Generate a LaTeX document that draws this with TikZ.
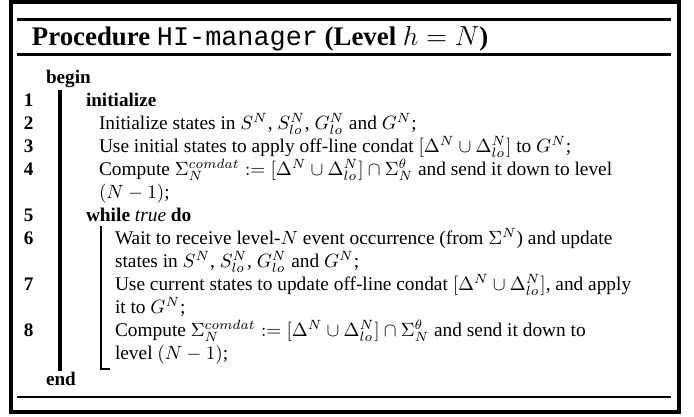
\documentclass[tikz,border=0pt]{standalone}
\usepackage[no-math]{fontspec}
\setmainfont{Liberation Serif}
\setmonofont{Liberation Mono}
\usepackage{amsmath}
\usetikzlibrary{positioning}

\begin{document}
\begin{tikzpicture}[
    x=0.5217pt, y=-0.5217pt,
    every node/.style={inner sep=0pt, outer sep=0pt, anchor=base west, font=\fontsize{10.1}{12}\selectfont},
    linenum/.style={font=\fontsize{10}{12}\selectfont\bfseries},
    keyword/.style={font=\fontsize{10}{12}\selectfont\bfseries},
    frame/.style={line width=1.6pt},
    rule/.style={line width=1.2pt},
    outerbar/.style={line width=1.6pt},
    innerbar/.style={line width=1.2pt}
]
\useasboundingbox (0,0) rectangle (694,416);

% frame and rules
\draw[frame] (11,2) rectangle (679,412);
\draw[rule] (17,19.5) -- (671,19.5);
\draw[rule] (17,54.5) -- (671,54.5);
\draw[rule] (17,397) -- (671,397);

% title
\node (title) at (32,45) {\fontsize{14}{17}\selectfont\textbf{Procedure} \texttt{HI-manager} \textbf{(Level} $h=N$\textbf{)}};

% begin block
\node[keyword] (begin) at (46,83) {begin};
\node[keyword] (end) at (46,385) {end};
\coordinate (btop) at (60,90);
\coordinate (bbot) at (60,371);
\draw[outerbar] (btop) -- (bbot);

% line numbers
\node[linenum] (n1) at (24,106) {1};
\node[linenum] (n2) at (24,129) {2};
\node[linenum] (n3) at (24,152) {3};
\node[linenum] (n4) at (24,175) {4};
\node[linenum] (n5) at (24,221) {5};
\node[linenum] (n6) at (24,244) {6};
\node[linenum] (n7) at (24,290) {7};
\node[linenum] (n8) at (24,336) {8};

% initialize
\node[keyword] (init) at (86,106) {initialize};
\node (l2) at (99,129) {Initialize states in $S^N$, $S^N_{lo}$, $G^N_{lo}$ and $G^N$;};
\node (l3) at (99,152) {Use initial states to apply off-line condat $[\Delta^N \cup \Delta^N_{lo}]$ to $G^N$;};
\node (l4) at (99,175) {Compute $\Sigma_N^{comdat} := [\Delta^N \cup \Delta^N_{lo}] \cap \Sigma^{\theta}_N$ and send it down to level};
\node (l4b) at (99,198) {$(N-1)$;};

% while loop
\node (while) at (86,221) {\textbf{while} \textit{true} \textbf{do}};
\coordinate (wtop) at (101,226);
\coordinate (wbot) at (101,369);
\coordinate (wtick) at (110,369);
\draw[innerbar] (wtop) -- (wbot) -- (wtick);
\node (l6) at (115,244) {Wait to receive level-$N$ event occurrence (from $\Sigma^N$) and update};
\node (l6b) at (115,267) {states in $S^N$, $S^N_{lo}$, $G^N_{lo}$ and $G^N$;};
\node (l7) at (115,290) {Use current states to update off-line condat $[\Delta^N \cup \Delta^N_{lo}]$, and apply};
\node (l7b) at (115,313) {it to $G^N$;};
\node (l8) at (115,336) {Compute $\Sigma_N^{comdat} := [\Delta^N \cup \Delta^N_{lo}] \cap \Sigma^{\theta}_N$ and send it down to};
\node (l8b) at (115,359) {level $(N-1)$;};

\end{tikzpicture}
\end{document}
